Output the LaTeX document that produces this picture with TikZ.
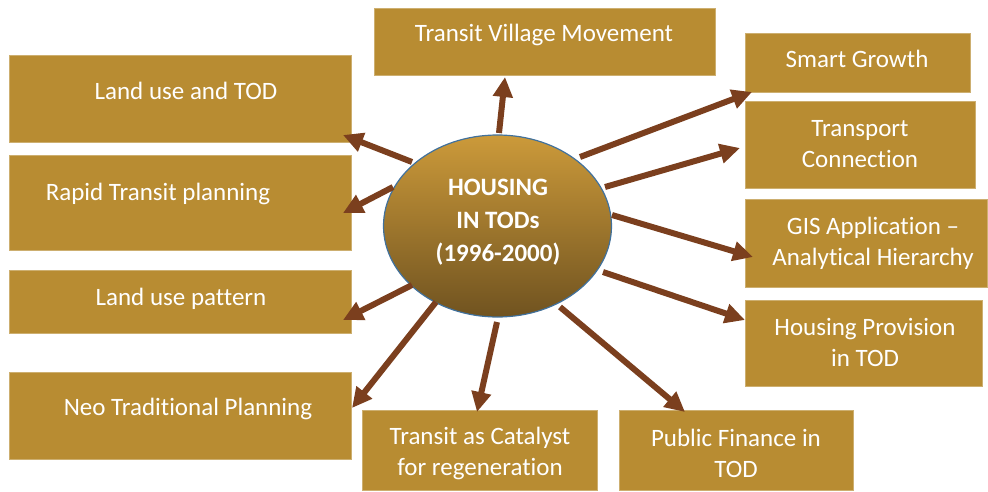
\documentclass[tikz,border=0pt]{standalone}
\usepackage{fontspec}
\setmainfont{Carlito}[Ligatures=NoCommon]
\usetikzlibrary{arrows.meta,shapes.geometric}
\definecolor{boxfill}{HTML}{B88C32}
\definecolor{arrowc}{HTML}{7B3F1E}
\definecolor{elltop}{HTML}{CC9A3A}
\definecolor{ellbot}{HTML}{705320}
\definecolor{ellline}{HTML}{41719C}
\tikzset{
  box/.style={rectangle, fill=boxfill, draw=boxfill!70!white, line width=0.6pt, inner sep=0pt},
  txt/.style={text=white, font=\fontsize{25}{31}\selectfont, align=center, inner sep=0pt},
  conn/.style={draw=arrowc, line width=6pt, -{Triangle[length=20pt,width=19pt]}}
}
\begin{document}
\begin{tikzpicture}[x=1pt,y=-1pt]
\useasboundingbox (0,0) rectangle (988,492);
% boxes
\node[box, minimum width=341pt, minimum height=67pt] (tv) at (544.5,41.5) {};
\node[box, minimum width=225pt, minimum height=59pt] (sg) at (857.5,62.5) {};
\node[box, minimum width=230pt, minimum height=87pt] (tc) at (860,144.5) {};
\node[box, minimum width=242pt, minimum height=88pt] (gis) at (866,243) {};
\node[box, minimum width=237pt, minimum height=86pt] (hp) at (863.5,343) {};
\node[box, minimum width=234pt, minimum height=80pt] (pf) at (736,450) {};
\node[box, minimum width=235pt, minimum height=80pt] (cat) at (479.5,450) {};
\node[box, minimum width=342pt, minimum height=87pt] (neo) at (180,415.5) {};
\node[box, minimum width=342pt, minimum height=63pt] (lup) at (180,301.5) {};
\node[box, minimum width=342pt, minimum height=95pt] (rt) at (180,202.5) {};
\node[box, minimum width=342pt, minimum height=87pt] (lu) at (180,98.5) {};
% texts
\node[txt] (tvt) at (544,34.5) {Transit Village Movement};
\node[txt] (sgt) at (857,58.5) {Smart Growth};
\node[txt] (tct) at (860,144) {Transport\\Connection};
\node[txt] (gist) at (873,243) {GIS Application –\\Analytical Hierarchy};
\node[txt] (hpt) at (865,342) {Housing Provision\\in TOD};
\node[txt] (pft) at (736,453) {Public Finance in\\TOD};
\node[txt] (catt) at (480,453) {Transit as Catalyst\\for regeneration};
\node[txt] (neot) at (188,408.5) {Neo Traditional Planning};
\node[txt] (lupt) at (181,298.5) {Land use pattern};
\node[txt] (rtt) at (158,193.5) {Rapid Transit planning};
\node[txt] (lut) at (186,90.5) {Land use and TOD};
% centre
\node[ellipse, minimum width=228pt, minimum height=182pt, inner sep=0pt,
  top color=elltop, bottom color=ellbot, draw=ellline, line width=1.2pt] (c) at (497.5,226) {};
\node[txt, font=\fontsize{25}{33}\selectfont\bfseries] (ct) at (498,222) {HOUSING\\IN TODs\\(1996-2000)};
% connector end points
\coordinate (s1) at (499,133); \coordinate (t1) at (505,77);
\coordinate (s2) at (580,157); \coordinate (t2) at (752,92);
\coordinate (s3) at (605,187); \coordinate (t3) at (740,148);
\coordinate (s4) at (612,215); \coordinate (t4) at (753,257);
\coordinate (s5) at (603,272); \coordinate (t5) at (745,320);
\coordinate (s6) at (560,307); \coordinate (t6) at (685,412);
\coordinate (s7) at (497,322); \coordinate (t7) at (477,412);
\coordinate (s8) at (436,302); \coordinate (t8) at (352,408);
\coordinate (s9) at (412,285); \coordinate (t9) at (343,320);
\coordinate (s10) at (393,187); \coordinate (t10) at (343,213);
\coordinate (s11) at (412,162); \coordinate (t11) at (343,135);
\foreach \i in {1,...,11} { \draw[conn] (s\i) -- (t\i); }
\end{tikzpicture}
\end{document}
